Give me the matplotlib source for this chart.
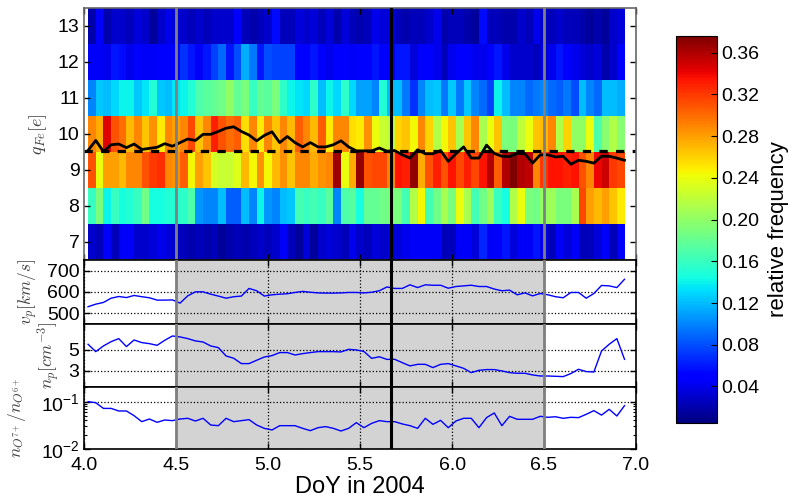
import numpy as np
import matplotlib
matplotlib.use("Agg")
import matplotlib.pyplot as plt
from matplotlib.ticker import FormatStrFormatter

plt.rcParams["font.family"] = ["Liberation Sans", "DejaVu Sans"]
plt.rcParams["mathtext.fontset"] = "cm"

# ── Data ──────────────────────────────────────────────────────────────────────
doy_start = 4.0            # hourly samples, centred on the half hour
n_hours = 71
charge_states = [7, 8, 9, 10, 11, 12, 13]

# relative frequency of each Fe charge state per hour (70 bins)
freq_q7 = [0.03, 0.025, 0.045, 0.025, 0.045, 0.045, 0.03, 0.03, 0.035, 0.04, 0.035, 0.03,
           0.025, 0.02, 0.025, 0.02, 0.025, 0.015, 0.02, 0.025, 0.02, 0.025, 0.03, 0.025,
           0.03, 0.045, 0.025, 0.015, 0.035, 0.015, 0.03, 0.035, 0.03, 0.025, 0.04, 0.03,
           0.025, 0.035, 0.03,
           0.035, 0.035, 0.04, 0.045, 0.045, 0.045, 0.045, 0.025, 0.025, 0.045, 0.045, 0.035,
           0.065, 0.045, 0.045, 0.06, 0.035, 0.045, 0.045, 0.06, 0.04, 0.025, 0.045, 0.035,
           0.045, 0.025, 0.025, 0.035, 0.045, 0.025, 0.045]
freq_q8 = [0.16, 0.19, 0.14, 0.16, 0.145, 0.15, 0.16, 0.185, 0.145, 0.145, 0.15, 0.15,
           0.155, 0.17, 0.105, 0.1, 0.1, 0.12, 0.085, 0.085, 0.12, 0.1, 0.14, 0.105,
           0.1, 0.12, 0.125, 0.165, 0.16, 0.165, 0.16, 0.175, 0.1, 0.17, 0.175, 0.145,
           0.18, 0.18, 0.185,
           0.19, 0.19, 0.165, 0.215, 0.245, 0.165, 0.185, 0.21, 0.19, 0.24, 0.21, 0.165,
           0.185, 0.205, 0.16, 0.145, 0.215, 0.24, 0.19, 0.185, 0.2, 0.205, 0.19, 0.19,
           0.21, 0.315, 0.28, 0.27, 0.28, 0.265, 0.25]
freq_q9 = [0.31, 0.24, 0.28, 0.28, 0.27, 0.29, 0.29, 0.31, 0.32, 0.325, 0.29, 0.285,
           0.305, 0.245, 0.28, 0.265, 0.23, 0.225, 0.225, 0.235, 0.27, 0.245, 0.285, 0.245,
           0.27, 0.285, 0.265, 0.29, 0.29, 0.275, 0.285, 0.29, 0.365, 0.24, 0.275, 0.37,
           0.31, 0.315, 0.315,
           0.29, 0.335, 0.33, 0.37, 0.275, 0.31, 0.33, 0.31, 0.335, 0.315, 0.33, 0.315,
           0.335, 0.36, 0.305, 0.36, 0.375, 0.36, 0.355, 0.29, 0.32, 0.335, 0.335, 0.33,
           0.335, 0.31, 0.29, 0.34, 0.35, 0.32, 0.315]
freq_q10 = [0.29, 0.275, 0.345, 0.31, 0.30, 0.27, 0.29, 0.265, 0.285, 0.25, 0.29, 0.28,
            0.29, 0.315, 0.265, 0.29, 0.33, 0.31, 0.30, 0.305, 0.255, 0.29, 0.25, 0.29,
            0.265, 0.29, 0.27, 0.305, 0.29, 0.27, 0.305, 0.25, 0.29, 0.29, 0.255, 0.25,
            0.285, 0.24, 0.225,
            0.22, 0.26, 0.265, 0.245, 0.29, 0.26, 0.215, 0.245, 0.265, 0.21, 0.265, 0.29,
            0.21, 0.24, 0.265, 0.19, 0.19, 0.22, 0.24, 0.265, 0.27, 0.29, 0.215, 0.26,
            0.2, 0.2, 0.24, 0.17, 0.195, 0.215, 0.195]
freq_q11 = [0.10, 0.125, 0.12, 0.13, 0.14, 0.14, 0.125, 0.135, 0.15, 0.125, 0.12, 0.135,
            0.14, 0.15, 0.17, 0.175, 0.18, 0.185, 0.20, 0.18, 0.19, 0.16, 0.18, 0.175,
            0.19, 0.155, 0.14, 0.135, 0.13, 0.155, 0.12, 0.14, 0.13, 0.155, 0.13, 0.11,
            0.11, 0.10, 0.15,
            0.12, 0.12, 0.095, 0.07, 0.10, 0.12, 0.125, 0.095, 0.125, 0.095, 0.125, 0.10,
            0.09, 0.075, 0.14, 0.12, 0.10, 0.10, 0.09, 0.095, 0.10, 0.09, 0.085, 0.095,
            0.08, 0.12, 0.10, 0.09, 0.12, 0.12, 0.115]
freq_q12 = [0.045, 0.045, 0.04, 0.06, 0.055, 0.04, 0.05, 0.045, 0.045, 0.05, 0.05, 0.05,
            0.07, 0.06, 0.045, 0.06, 0.075, 0.09, 0.06, 0.08, 0.115, 0.095, 0.06, 0.08,
            0.075, 0.075, 0.075, 0.05, 0.05, 0.06, 0.05, 0.04, 0.05, 0.05, 0.045, 0.05,
            0.05, 0.06, 0.05,
            0.05, 0.06, 0.06, 0.035, 0.05, 0.05, 0.04, 0.025, 0.04, 0.05, 0.05, 0.04,
            0.04, 0.05, 0.06, 0.04, 0.03, 0.03, 0.03, 0.025, 0.035, 0.04, 0.06, 0.05,
            0.04, 0.035, 0.03, 0.035, 0.02, 0.03, 0.05]
freq_q13 = [0.02, 0.05, 0.02, 0.03, 0.03, 0.025, 0.035, 0.03, 0.015, 0.03, 0.04, 0.035,
            0.03, 0.025, 0.03, 0.025, 0.03, 0.03, 0.03, 0.05, 0.025, 0.02, 0.025, 0.03,
            0.055, 0.025, 0.025, 0.035, 0.03, 0.035, 0.025, 0.035, 0.02, 0.035, 0.025, 0.02,
            0.025, 0.04, 0.035,
            0.035, 0.025, 0.02, 0.025, 0.025, 0.03, 0.04, 0.02, 0.025, 0.025, 0.02, 0.015,
            0.055, 0.025, 0.025, 0.02, 0.02, 0.03, 0.025, 0.04, 0.03, 0.025, 0.03, 0.025,
            0.025, 0.02, 0.015, 0.02, 0.015, 0.03, 0.035]

# mean Fe charge state
mean_q = [9.545, 9.82, 9.51, 9.70, 9.72, 9.62, 9.72, 9.57, 9.60, 9.63, 9.73, 9.66,
          9.76, 9.86, 9.82, 9.99, 9.99, 10.07, 10.16, 10.20, 10.07, 9.97, 9.81, 9.96,
          10.06, 9.76, 9.93, 9.76, 9.64, 9.76, 9.64, 9.64, 9.70, 9.81, 9.64, 9.53,
          9.53, 9.53, 9.61, 9.52, 9.54, 9.42, 9.33, 9.56, 9.45, 9.45, 9.54, 9.24,
          9.45, 9.64, 9.33, 9.33, 9.69, 9.46, 9.38, 9.37, 9.46, 9.45, 9.19, 9.42,
          9.42, 9.36, 9.38, 9.16, 9.27, 9.24, 9.19, 9.38, 9.38, 9.33, 9.27]
q_reference = 9.53

# proton speed [km/s]
v_p = [530, 542, 550, 570, 578, 573, 583, 577, 572, 561, 561, 562, 547, 581, 600, 600,
       589, 580, 570, 577, 580, 616, 605, 580, 586, 589, 591, 597, 602, 598, 595, 594,
       594, 595, 597, 597, 595, 598, 605, 623, 616, 616, 633, 620, 633, 631, 631, 617,
       625, 628, 631, 625, 625, 613, 605, 608, 586, 595, 581, 592, 586, 577, 572, 597,
       597, 570, 592, 630, 628, 620, 659]

# proton density [cm^-3]
n_p = [5.54, 4.84, 5.38, 5.79, 6.08, 5.32, 5.95, 5.70, 5.60, 5.44, 5.92, 6.33, 6.24,
       6.08, 5.86, 5.76, 5.38, 5.22, 4.43, 4.21, 3.70, 3.70, 4.02, 4.33, 4.46, 4.75,
       4.75, 4.52, 4.65, 4.75, 4.84, 4.84, 4.84, 4.81, 5.06, 5.00, 4.85, 4.20, 4.35,
       4.10, 4.11, 3.79, 3.48, 3.63, 3.63, 3.32, 3.63, 3.70, 3.48, 3.25, 2.84, 3.06,
       3.13, 3.13, 3.00, 2.84, 2.78, 2.78, 2.62, 2.52, 2.52, 2.49, 2.46, 2.75, 3.16,
       2.94, 2.90, 4.90, 5.54, 6.08, 4.11]

# O7+/O6+ ratio
o_ratio = [0.1, 0.095, 0.072, 0.072, 0.0635, 0.0635, 0.0506, 0.0378, 0.043, 0.0366,
           0.041, 0.0397, 0.043, 0.0445, 0.039, 0.0445, 0.0321, 0.0311, 0.0445, 0.0378,
           0.0397, 0.0417, 0.0321, 0.0273, 0.0252, 0.0311, 0.0311, 0.0311, 0.0273, 0.0244,
           0.0282, 0.0297, 0.0273, 0.024, 0.0273, 0.036, 0.0282, 0.0348, 0.0397,
           0.0378, 0.0378, 0.0338, 0.0311, 0.0273, 0.0445, 0.0332, 0.0403, 0.0282, 0.039,
           0.0445, 0.0445, 0.0282, 0.046, 0.0577, 0.0311, 0.049, 0.0424, 0.0424, 0.0424,
           0.049, 0.0467, 0.048, 0.0445, 0.0467, 0.046, 0.054, 0.0646, 0.052, 0.0689,
           0.0498, 0.0823]

# event boundaries (DoY)
icme_start, icme_end = 4.5, 6.5
shock_time = 5.667

# ── Figure ────────────────────────────────────────────────────────────────────
times = doy_start + (np.arange(n_hours) + 0.5) / 24.0
charge_edges = np.append(np.array(charge_states) - 0.5, charge_states[-1] + 0.5)
freq = np.array([freq_q7, freq_q8, freq_q9, freq_q10, freq_q11, freq_q12, freq_q13])

fig = plt.figure(figsize=(7.95, 4.98), dpi=100)
left, width = 0.106, 0.694
ax_q = fig.add_axes([left, 0.478, width, 0.506])
ax_v = fig.add_axes([left, 0.350, width, 0.128], sharex=ax_q)
ax_n = fig.add_axes([left, 0.2235, width, 0.1265], sharex=ax_q)
ax_o = fig.add_axes([left, 0.0984, width, 0.1251], sharex=ax_q)
cax = fig.add_axes([0.850, 0.1506, 0.0516, 0.777])

mesh = ax_q.pcolormesh(times, charge_edges, freq, cmap="jet", vmin=0.005, vmax=0.376)
ax_q.plot(times, mean_q, color="black", lw=2)
ax_q.axhline(q_reference, color="black", lw=2.3, linestyle=(0, (2.6, 2.6)))
ax_q.set_ylim(6.5, 13.5)
ax_q.set_yticks(charge_states)
ax_q.set_ylabel(r"$q_{Fe}[e]$", fontsize=13, color="0.25", labelpad=6)
for spine in ax_q.spines.values():
    spine.set_edgecolor("0.4")
    spine.set_linewidth(1.2)

for ax, series in [(ax_v, v_p), (ax_n, n_p), (ax_o, o_ratio)]:
    ax.axvspan(icme_start, icme_end, color="lightgrey", zorder=0)
    ax.plot(times, series, color="blue", lw=1, zorder=3)
    ax.grid(True, which="major", color="black", linestyle=":", linewidth=0.9)
    for spine in ax.spines.values():
        spine.set_linewidth(1.2)

ax_v.set_ylim(450, 750)
ax_v.set_yticks([500, 600, 700])
ax_v.set_ylabel(r"$v_p[km/s]$", fontsize=12.5, color="0.25", labelpad=5)

ax_n.set_ylim(1.5, 7.5)
ax_n.set_yticks([3, 5])
ax_n.set_ylabel(r"$n_p[cm^{-3}]$", fontsize=12.5, color="0.25", labelpad=5)

ax_o.set_yscale("log")
ax_o.set_ylim(0.01, 0.207)
ax_o.set_yticks([0.01, 0.1])
ax_o.set_ylabel(r"$n_{O^{7+}}/n_{O^{6+}}$", fontsize=12.5, color="0.25")
ax_o.yaxis.set_label_coords(-0.102, 0.5)
ax_o.set_xlabel("DoY in 2004", fontsize=17, labelpad=1)

for ax in [ax_q, ax_v, ax_n, ax_o]:
    ax.axvline(icme_start, color="grey", lw=2, zorder=4)
    ax.axvline(icme_end, color="grey", lw=2, zorder=4)
    ax.axvline(shock_time, color="black", lw=2.2, zorder=4)
    ax.tick_params(which="both", direction="in", top=True, right=True, labelsize=14)
    ax.tick_params(which="major", length=4, width=1)
    ax.tick_params(which="minor", length=2, width=0.8)
    if ax is not ax_o:
        ax.tick_params(labelbottom=False)
ax_o.tick_params(axis="x", pad=6)

ax_q.set_xlim(4.0, 7.0)
ax_o.set_xticks(np.arange(4.0, 7.01, 0.5))
ax_o.xaxis.set_major_formatter(FormatStrFormatter("%.1f"))

cb = fig.colorbar(mesh, cax=cax, ticks=np.arange(0.04, 0.37, 0.04))
cb.ax.yaxis.set_major_formatter(FormatStrFormatter("%.2f"))
cb.ax.tick_params(direction="in", length=4, labelsize=14)
cb.set_label("relative frequency", fontsize=16, labelpad=6)

fig.savefig("out.png", dpi=100)
